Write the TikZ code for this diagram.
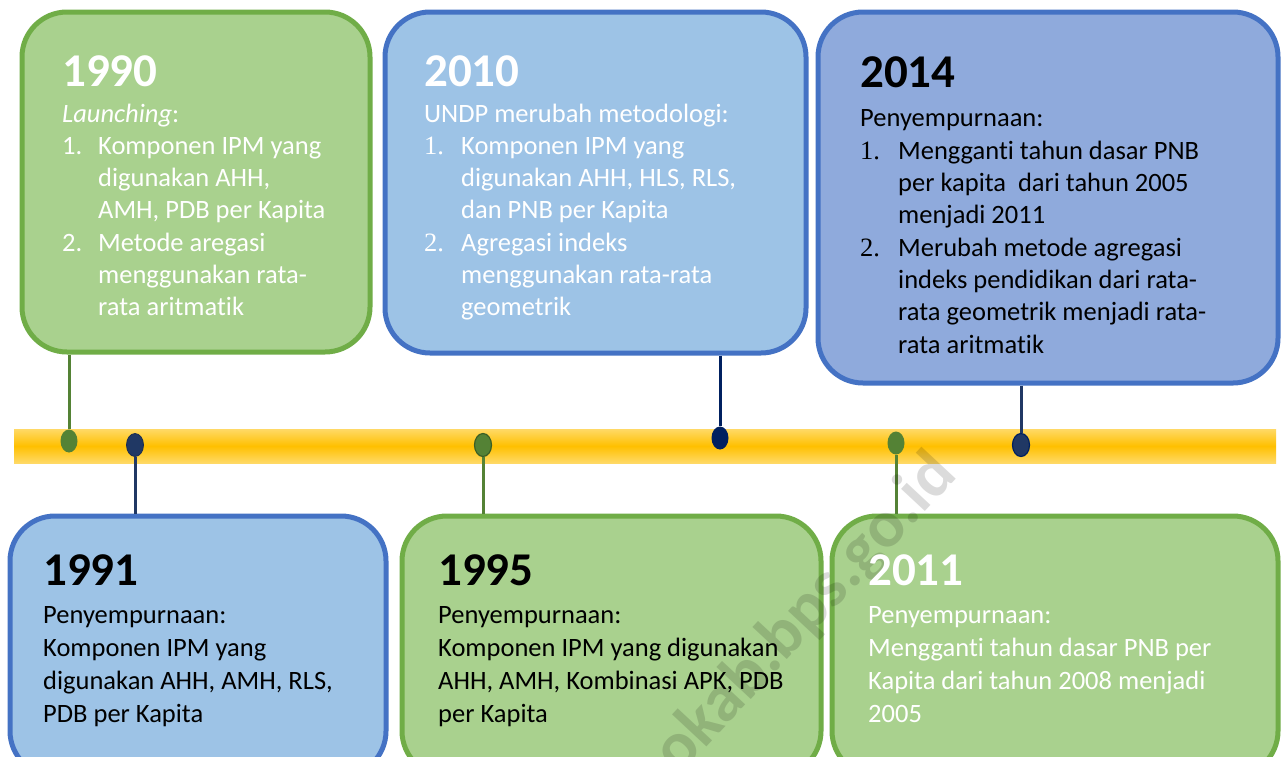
\documentclass[tikz,border=0pt]{standalone}
\usepackage{fontspec}
\setmainfont{Carlito}[Ligatures=NoCommon]
\newfontfamily\numfont{Liberation Serif}
\usetikzlibrary{shapes.geometric}
\definecolor{gfill}{HTML}{A9D18E}
\definecolor{gline}{HTML}{70AD47}
\definecolor{bfill}{HTML}{9DC3E6}
\definecolor{bline}{HTML}{4472C4}
\definecolor{bfilltwo}{HTML}{8FAADC}
\definecolor{dgreen}{HTML}{548235}
\definecolor{dgreenb}{HTML}{3B5E25}
\definecolor{navy}{HTML}{203864}
\definecolor{navytwo}{HTML}{002060}
\definecolor{ylight}{HTML}{FFD966}
\definecolor{ymid}{HTML}{FFC000}
\begin{document}
\begin{tikzpicture}[x=1pt,y=-1pt,
  card/.style={rounded corners=45pt, line width=5pt, inner sep=0pt},
  gcard/.style={card, draw=gline, fill=gfill},
  bcard/.style={card, draw=bline, fill=bfill},
  conn/.style={line width=3pt},
  dot/.style={ellipse, inner sep=0pt, minimum width=17pt, minimum height=23pt},
  yeartxt/.style={anchor=base west, inner sep=0pt, font=\bfseries\fontsize{47}{50}\selectfont},
  bodytxt/.style={anchor=base west, align=left, inner sep=0pt, font=\fontsize{26.5}{32.3}\selectfont},
  bodytxtb/.style={anchor=base west, align=left, inner sep=0pt, font=\fontsize{26.5}{33}\selectfont}]
\useasboundingbox (0,0) rectangle (1282,756);
\fill[white] (0,0) rectangle (1282,756);
% timeline bar
\shade[top color=ylight, bottom color=ylight, middle color=ymid] (14,429) rectangle (1276,463);
\node[inner sep=0pt, minimum width=1262pt, minimum height=34pt] (bar) at (645,446) {};
% boxes
\node[gcard, minimum width=348pt, minimum height=340pt] (b1990) at (196,182) {};
\node[bcard, minimum width=421pt, minimum height=341pt] (b2010) at (595.5,182.5) {};
\node[card, draw=bline, fill=bfilltwo, minimum width=460pt, minimum height=371pt] (b2014) at (1048,197.5) {};
\node[bcard, minimum width=376pt, minimum height=260pt] (b1991) at (198,646) {};
\node[gcard, minimum width=419pt, minimum height=260pt] (b1995) at (611.5,646) {};
\node[gcard, minimum width=446pt, minimum height=260pt] (b2011) at (1055,646) {};
% dots
\node[dot, fill=dgreen] (d1990) at (69,441) {};
\node[dot, fill=navy, draw=navy!80!black, line width=0.8pt] (d1991) at (135,445) {};
\node[dot, fill=dgreen, draw=dgreenb, line width=1.2pt] (d1995) at (483,445) {};
\node[dot, fill=navytwo] (d2010) at (720,438) {};
\node[dot, fill=dgreen] (d2011) at (896,443) {};
\node[dot, fill=navy, draw=navytwo, line width=1.2pt] (d2014) at (1021,445) {};
% connectors
\draw[conn, dgreen] (b1990.south -| d1990) -- (d1990.north);
\draw[conn, navy] (d1991.south) -- (b1991.north -| d1991);
\draw[conn, dgreen] (d1995.south) -- (b1995.north -| d1995);
\draw[conn, navytwo] (b2010.south -| d2010) -- (d2010.north);
\draw[conn, dgreen] (d2011.south) -- (b2011.north -| d2011);
\draw[conn, navy] (b2014.south -| d2014) -- (d2014.north);
% watermark
\node[rotate=47, text=black, opacity=0.14, inner sep=0pt, font=\bfseries\fontsize{67}{67}\selectfont] (wm) at (806,614) {okab.bps.go.id};
% texts 1990 (node anchored at the baseline of its last line)
\node[yeartxt, text=white] (y1990) at (62,86) {1990};
\node[bodytxt, text=white] (t1990) at (62,315.8) {\textit{Launching}:\\
\makebox[36pt][l]{1.}Komponen IPM yang\\
\hspace*{36pt}digunakan AHH,\\
\hspace*{36pt}AMH, PDB per Kapita\\
\makebox[36pt][l]{2.}Metode aregasi\\
\hspace*{36pt}menggunakan rata-\\
\hspace*{36pt}rata aritmatik};
% texts 2010
\node[yeartxt, text=white] (y2010) at (424,86) {2010};
\node[bodytxt, text=white] (t2010) at (424,315.8) {UNDP merubah metodologi:\\
\makebox[37pt][l]{\numfont 1.}Komponen IPM yang\\
\hspace*{37pt}digunakan AHH, HLS, RLS,\\
\hspace*{37pt}dan PNB per Kapita\\
\makebox[37pt][l]{\numfont 2.}Agregasi indeks\\
\hspace*{37pt}menggunakan rata-rata\\
\hspace*{37pt}geometrik};
% texts 2014
\node[yeartxt, text=black] (y2014) at (860,87) {2014};
\node[bodytxt, text=black] (t2014) at (860,353) {Penyempurnaan:\\
\makebox[38pt][l]{\numfont 1.}Mengganti tahun dasar PNB\\
\hspace*{38pt}per kapita\ \ dari tahun 2005\\
\hspace*{38pt}menjadi 2011\\
\makebox[38pt][l]{\numfont 2.}Merubah metode agregasi\\
\hspace*{38pt}indeks pendidikan dari rata-\\
\hspace*{38pt}rata geometrik menjadi rata-\\
\hspace*{38pt}rata aritmatik};
% texts 1991
\node[yeartxt, text=black] (y1991) at (43,585) {1991};
\node[bodytxtb, text=black] (t1991) at (43,722) {Penyempurnaan:\\
Komponen IPM yang\\
digunakan AHH, AMH, RLS,\\
PDB per Kapita};
% texts 1995
\node[yeartxt, text=black] (y1995) at (438,585) {1995};
\node[bodytxtb, text=black] (t1995) at (438,722) {Penyempurnaan:\\
Komponen IPM yang digunakan\\
AHH, AMH, Kombinasi APK, PDB\\
per Kapita};
% texts 2011
\node[yeartxt, text=white] (y2011) at (868,585) {2011};
\node[bodytxtb, text=white] (t2011) at (868,722) {Penyempurnaan:\\
Mengganti tahun dasar PNB per\\
Kapita dari tahun 2008 menjadi\\
2005};
\end{tikzpicture}
\end{document}
